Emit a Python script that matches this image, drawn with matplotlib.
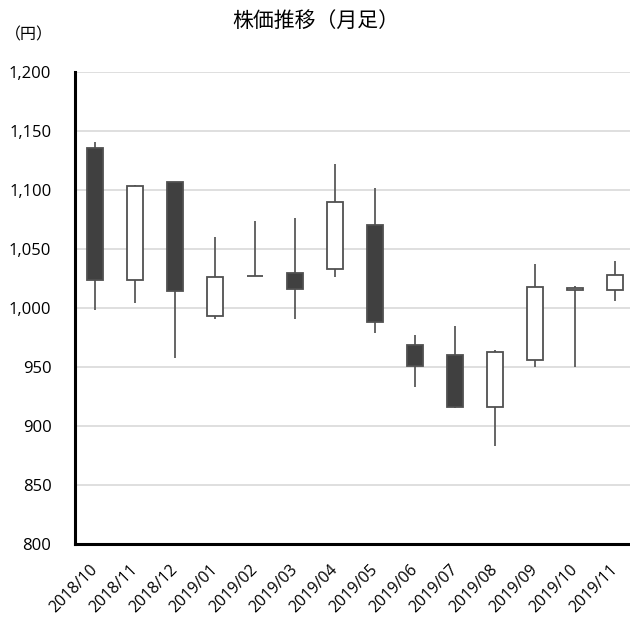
import matplotlib.pyplot as plt

plt.rcParams['font.family'] = ['Open Sans', 'Noto Sans CJK JP', 'DejaVu Sans']

# data (monthly candles)
months = ["2018/10", "2018/11", "2018/12", "2019/01", "2019/02", "2019/03", "2019/04",
          "2019/05", "2019/06", "2019/07", "2019/08", "2019/09", "2019/10", "2019/11"]
open_ = [1136, 1024, 1107, 993, 1027, 1030, 1033, 1070, 969, 960, 916, 956, 1015, 1015]
high = [1141, 1104, 1107, 1060, 1074, 1076, 1122, 1102, 977, 985, 964, 1037, 1019, 1040]
low = [998, 1004, 958, 991, 1027, 991, 1026, 979, 933, 915, 883, 950, 950, 1006]
close = [1024, 1103, 1014, 1026, 1027, 1016, 1090, 988, 951, 916, 963, 1018, 1017, 1028]

fig = plt.figure(figsize=(6.3, 6.19), dpi=100)
ax = fig.add_axes([75 / 630, 1 - 544 / 619, 560 / 630, 472 / 619])

x = list(range(len(months)))
ax.vlines(x, low, high, color="#595959", linewidth=1.3, zorder=2)

bottoms = [min(o, c) for o, c in zip(open_, close)]
heights = [abs(c - o) for o, c in zip(open_, close)]
colors = ["#404040" if c < o else "white" for o, c in zip(open_, close)]
ax.bar(x, heights, bottom=bottoms, width=0.42, color=colors,
       edgecolor="#505050", linewidth=1.3, zorder=3)

ax.set_xlim(-0.5, len(months) - 0.5)
ax.set_ylim(800, 1200)
ax.set_yticks(range(800, 1201, 50))
ax.set_yticklabels([f"{v:,}" for v in range(800, 1201, 50)], fontsize=12)
ax.set_xticks(x)
ax.set_xticklabels(months, fontsize=11.5, rotation=45, ha="right", va="center",
                   rotation_mode="anchor")
ax.tick_params(axis="y", length=0, pad=17)
ax.tick_params(axis="x", length=0, pad=17)

ax.grid(axis="y", color="#d9d9d9", linewidth=1.2, zorder=0)
ax.set_axisbelow(True)
for side in ["top", "right"]:
    ax.spines[side].set_visible(False)
ax.spines["left"].set_linewidth(2.2)
ax.spines["bottom"].set_linewidth(2.2)

fig.text(316 / 630, 1 - 21 / 619, "株価推移（月足）", ha="center", va="center",
         fontsize=15, family=['Noto Sans CJK JP', 'DejaVu Sans'])
fig.text(29 / 630, 1 - 35 / 619, "（円）", ha="center", va="center",
         fontsize=11.5, family=['Noto Sans CJK JP', 'DejaVu Sans'])

fig.savefig("out.png", dpi=100)
